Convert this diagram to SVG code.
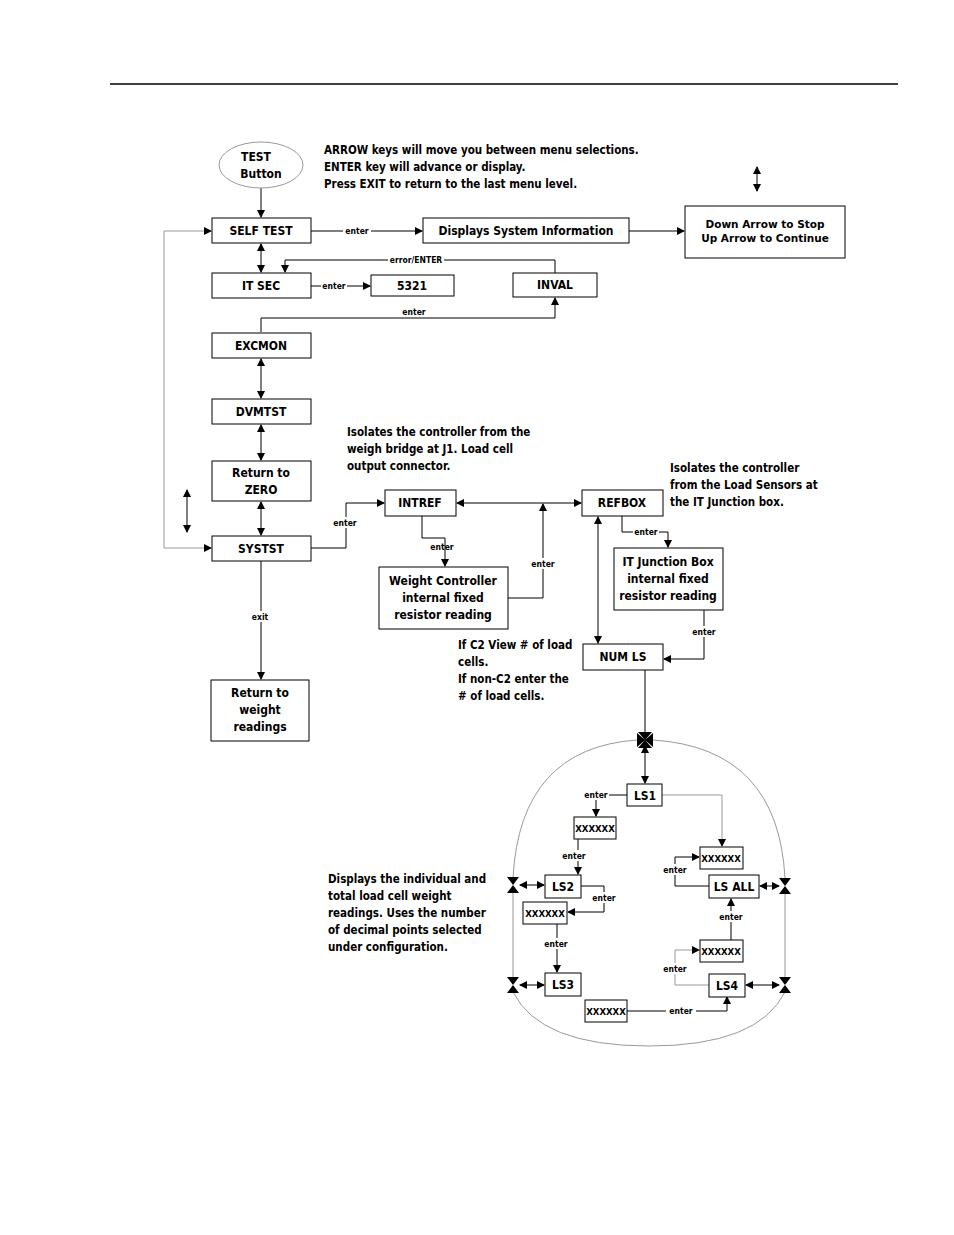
<svg xmlns="http://www.w3.org/2000/svg" width="954" height="1235" viewBox="0 0 954 1235">
<defs>
<marker id="a" markerWidth="8" markerHeight="8" refX="7" refY="4" orient="auto-start-reverse" markerUnits="userSpaceOnUse"><path d="M0,0 L8,4 L0,8 z" fill="#000"/></marker>
<style>
text{font-family:"DejaVu Sans Condensed","DejaVu Sans",sans-serif;font-weight:bold;fill:#000}
.b{font-size:12px;text-anchor:middle}
.x{font-size:9.5px;text-anchor:middle}
.n{font-size:11.5px}
.s{font-size:8.5px;text-anchor:middle}
.m{font-family:"DejaVu Sans","Liberation Sans",sans-serif;font-size:10.5px;text-anchor:middle}
rect{fill:#fff;stroke:#000;stroke-width:1}
.c path,.c line{fill:none;stroke:#000;stroke-width:1}
.c .g{stroke:#999}
.c .j{fill:#000;stroke:none}
.lb{fill:#fff;stroke:none}
</style>
</defs>
<rect width="954" height="1235" style="fill:#fff;stroke:none"/>
<line x1="110" y1="84" x2="898" y2="84" stroke="#000" stroke-width="1.5"/>

<g class="c" id="connectors">
<line x1="261" y1="188" x2="261" y2="217" marker-end="url(#a)"/>
<line x1="311" y1="231" x2="422" y2="231" marker-end="url(#a)"/>
<line x1="629" y1="231" x2="684" y2="231" marker-end="url(#a)"/>
<line x1="757" y1="167" x2="757" y2="191" marker-start="url(#a)" marker-end="url(#a)"/>
<line x1="261" y1="244" x2="261" y2="272" marker-start="url(#a)" marker-end="url(#a)"/>
<path d="M555,273 V260 H285 V272" marker-end="url(#a)"/>
<line x1="311" y1="286" x2="370" y2="286" marker-end="url(#a)"/>
<path d="M261,332 V318 H555 V298" marker-end="url(#a)"/>
<line x1="261" y1="359" x2="261" y2="398" marker-start="url(#a)" marker-end="url(#a)"/>
<line x1="261" y1="425" x2="261" y2="460" marker-start="url(#a)" marker-end="url(#a)"/>
<line x1="261" y1="502" x2="261" y2="535" marker-start="url(#a)" marker-end="url(#a)"/>
<path class="g" d="M211,231 H164 V548 H211" marker-start="url(#a)" marker-end="url(#a)"/>
<line x1="187" y1="490" x2="187" y2="532" marker-start="url(#a)" marker-end="url(#a)"/>
<path d="M311,548 H346 V503 H384" marker-end="url(#a)"/>
<line x1="457" y1="503" x2="581" y2="503" marker-start="url(#a)" marker-end="url(#a)"/>
<path d="M422,516 V538 H445 V566" marker-end="url(#a)"/>
<path d="M508,598 H543 V504" marker-end="url(#a)"/>
<line x1="598" y1="517" x2="598" y2="643" marker-start="url(#a)" marker-end="url(#a)"/>
<path d="M622,516 V532 H668 V547" marker-end="url(#a)"/>
<path d="M704,610 V659 H664" marker-end="url(#a)"/>
<line x1="645" y1="670" x2="645" y2="734"/>
<line x1="261" y1="561" x2="261" y2="679" marker-end="url(#a)"/>
<line x1="645" y1="746" x2="645" y2="783" marker-start="url(#a)" marker-end="url(#a)"/>
<path d="M627,795 H596 V816" marker-end="url(#a)"/>
<path d="M578,839 V874" marker-end="url(#a)"/>
<path d="M581,886 H604 V912 H568" marker-end="url(#a)"/>
<path d="M557,924 V972" marker-end="url(#a)"/>
<line x1="520" y1="885" x2="544" y2="885" marker-start="url(#a)" marker-end="url(#a)"/>
<line x1="520" y1="985" x2="544" y2="985" marker-start="url(#a)" marker-end="url(#a)"/>
<path d="M627,1011 H727 V997" marker-end="url(#a)"/>
<path class="g" d="M709,985 H675 V950 H699" marker-end="url(#a)"/>
<path d="M731,940 V899" marker-end="url(#a)"/>
<path d="M709,886 H675 V857 H699" marker-end="url(#a)"/>
<path class="g" d="M662,795 H722 V846" marker-end="url(#a)"/>
<line x1="760" y1="886" x2="779" y2="886" marker-start="url(#a)" marker-end="url(#a)"/>
<line x1="746" y1="985" x2="779" y2="985" marker-start="url(#a)" marker-end="url(#a)"/>
<path class="g" d="M637,740 Q520,748 513,878"/>
<path class="g" d="M653,740 Q778,748 785,878"/>
<line class="g" x1="513" y1="892" x2="513" y2="978"/>
<line class="g" x1="785" y1="892" x2="785" y2="978"/>
<path class="g" d="M513,992 Q540,1046 649,1046 Q758,1046 785,992"/>
<path class="j" d="M637,733 L645,740 L637,747 Z M653,733 L645,740 L653,747 Z M638,732 L652,732 L645,740 Z M638,748 L652,748 L645,740 Z"/>
<path class="j" d="M507,877 L519,877 L513,885 Z M507,893 L519,893 L513,885 Z"/>
<path class="j" d="M507,977 L519,977 L513,985 Z M507,993 L519,993 L513,985 Z"/>
<path class="j" d="M779,878 L791,878 L785,886 Z M779,894 L791,894 L785,886 Z"/>
<path class="j" d="M779,977 L791,977 L785,985 Z M779,993 L791,993 L785,985 Z"/>
<g>
<rect class="lb" x="343" y="225" width="28" height="11"/><text class="s" x="357" y="234">enter</text>
<rect class="lb" x="388" y="254" width="56" height="11"/><text class="s" x="416" y="263">error/ENTER</text>
<rect class="lb" x="321" y="280" width="26" height="11"/><text class="s" x="334" y="289">enter</text>
<text class="s" x="414" y="315">enter</text>
<rect class="lb" x="332" y="517" width="28" height="11"/><text class="s" x="345" y="526">enter</text>
<text class="s" x="442" y="550">enter</text>
<rect class="lb" x="530" y="558" width="26" height="11"/><text class="s" x="543" y="567">enter</text>
<rect class="lb" x="633" y="526" width="26" height="11"/><text class="s" x="646" y="535">enter</text>
<rect class="lb" x="691" y="626" width="26" height="11"/><text class="s" x="704" y="635">enter</text>
<rect class="lb" x="250" y="611" width="20" height="11"/><text class="s" x="260" y="620">exit</text>
<rect class="lb" x="583" y="789" width="26" height="11"/><text class="s" x="596" y="798">enter</text>
<rect class="lb" x="561" y="850" width="26" height="11"/><text class="s" x="574" y="859">enter</text>
<rect class="lb" x="591" y="892" width="26" height="11"/><text class="s" x="604" y="901">enter</text>
<rect class="lb" x="543" y="938" width="26" height="11"/><text class="s" x="556" y="947">enter</text>
<rect class="lb" x="666" y="1005" width="30" height="11"/><text class="s" x="681" y="1014">enter</text>
<rect class="lb" x="662" y="963" width="26" height="11"/><text class="s" x="675" y="972">enter</text>
<rect class="lb" x="718" y="911" width="26" height="11"/><text class="s" x="731" y="920">enter</text>
<rect class="lb" x="662" y="864" width="26" height="11"/><text class="s" x="675" y="873">enter</text>
</g>
</g>

<g id="test"><ellipse cx="261" cy="165" rx="42" ry="23" fill="#fff" stroke="#999"/><text class="b" x="256" y="161">TEST</text><text class="b" x="261" y="178">Button</text></g>
<g id="selftest"><rect x="212" y="218" width="99" height="25"/><text class="b" x="261" y="235">SELF TEST</text></g>
<g id="sysinfo"><rect x="423" y="218" width="206" height="25"/><text class="b" x="526" y="235">Displays System Information</text></g>
<g id="downarrow"><rect x="685" y="206" width="160" height="52"/><text class="m" x="765" y="228">Down Arrow to Stop</text><text class="m" x="765" y="242">Up Arrow to Continue</text></g>
<g id="itsec"><rect x="212" y="273" width="99" height="25"/><text class="b" x="261" y="290">IT SEC</text></g>
<g id="n5321"><rect x="371" y="275" width="83" height="21"/><text class="b" x="412" y="290">5321</text></g>
<g id="inval"><rect x="513" y="273" width="84" height="24"/><text class="b" x="555" y="289">INVAL</text></g>
<g id="excmon"><rect x="212" y="333" width="99" height="25"/><text class="b" x="261" y="350">EXCMON</text></g>
<g id="dvmtst"><rect x="212" y="399" width="99" height="25"/><text class="b" x="261" y="416">DVMTST</text></g>
<g id="retzero"><rect x="212" y="461" width="99" height="40"/><text class="b" x="261" y="477">Return to</text><text class="b" x="261" y="494">ZERO</text></g>
<g id="systst"><rect x="212" y="536" width="99" height="25"/><text class="b" x="261" y="553">SYSTST</text></g>
<g id="retweight"><rect x="211" y="680" width="98" height="61"/><text class="b" x="260" y="697">Return to</text><text class="b" x="260" y="714">weight</text><text class="b" x="260" y="731">readings</text></g>
<g id="intref"><rect x="385" y="490" width="71" height="26"/><text class="b" x="420" y="507">INTREF</text></g>
<g id="refbox"><rect x="582" y="490" width="81" height="26"/><text class="b" x="622" y="507">REFBOX</text></g>
<g id="wcont"><rect x="379" y="567" width="129" height="62"/><text class="b" x="443" y="585">Weight Controller</text><text class="b" x="443" y="602">internal fixed</text><text class="b" x="443" y="619">resistor reading</text></g>
<g id="itjb"><rect x="614" y="548" width="109" height="62"/><text class="b" x="668" y="566">IT Junction Box</text><text class="b" x="668" y="583">internal fixed</text><text class="b" x="668" y="600">resistor reading</text></g>
<g id="numls"><rect x="583" y="644" width="80" height="26"/><text class="b" x="623" y="661">NUM LS</text></g>
<g id="ls1"><rect x="627" y="784" width="35" height="22"/><text class="b" x="645" y="800">LS1</text></g>
<g id="x1"><rect x="574" y="817" width="42" height="22"/><text class="x" x="595" y="832">XXXXXX</text></g>
<g id="ls2"><rect x="545" y="875" width="36" height="23"/><text class="b" x="563" y="891">LS2</text></g>
<g id="x2"><rect x="523" y="902" width="44" height="22"/><text class="x" x="545" y="917">XXXXXX</text></g>
<g id="ls3"><rect x="545" y="973" width="36" height="23"/><text class="b" x="563" y="989">LS3</text></g>
<g id="x3"><rect x="585" y="1000" width="42" height="22"/><text class="x" x="606" y="1015">XXXXXX</text></g>
<g id="ls4"><rect x="709" y="974" width="36" height="23"/><text class="b" x="727" y="990">LS4</text></g>
<g id="x4"><rect x="700" y="940" width="43" height="22"/><text class="x" x="721" y="955">XXXXXX</text></g>
<g id="lsall"><rect x="709" y="875" width="50" height="23"/><text class="b" x="734" y="891">LS ALL</text></g>
<g id="x5"><rect x="700" y="847" width="43" height="22"/><text class="x" x="721" y="862">XXXXXX</text></g>

<g id="notes">
<text class="n" x="324" y="154">ARROW keys will move you between menu selections.</text>
<text class="n" x="324" y="171">ENTER key will advance or display.</text>
<text class="n" x="324" y="188">Press EXIT to return to the last menu level.</text>
<text class="n" x="347" y="436">Isolates the controller from the</text>
<text class="n" x="347" y="453">weigh bridge at J1.  Load cell</text>
<text class="n" x="347" y="470">output connector.</text>
<text class="n" x="670" y="472">Isolates the controller</text>
<text class="n" x="670" y="489">from the Load Sensors at</text>
<text class="n" x="670" y="506">the IT Junction box.</text>
<text class="n" x="458" y="649">If C2 View # of load</text>
<text class="n" x="458" y="666">cells.</text>
<text class="n" x="458" y="683">If non-C2 enter the</text>
<text class="n" x="458" y="700"># of load cells.</text>
<text class="n" x="328" y="883">Displays the individual and</text>
<text class="n" x="328" y="900">total load cell weight</text>
<text class="n" x="328" y="917">readings.  Uses the number</text>
<text class="n" x="328" y="934">of decimal points selected</text>
<text class="n" x="328" y="951">under configuration.</text>
</g>
</svg>
